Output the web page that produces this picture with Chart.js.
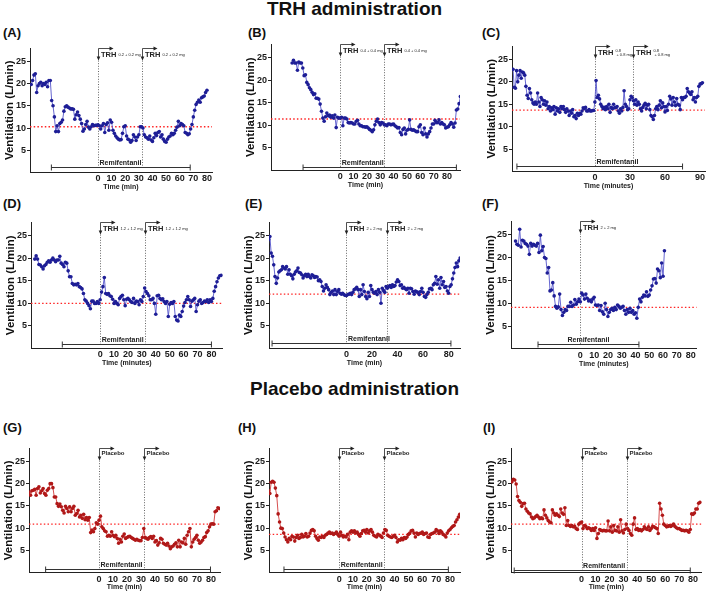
<!DOCTYPE html>
<html>
<head>
<meta charset="utf-8">
<script src="https://cdn.jsdelivr.net/npm/chart.js@4.4.1/dist/chart.umd.min.js"></script>
<style>
body { margin: 0; background: #fff; }
#fig { position: relative; width: 709px; height: 598px; overflow: hidden; font-family: "Liberation Sans", Arial, sans-serif; color: #111; }
.head { position: absolute; left: 0; width: 709px; text-align: center; font-weight: bold; font-size: 19px; line-height: 22px; }
.tag { position: absolute; font-weight: bold; font-size: 13px; line-height: 14px; }
canvas { position: absolute; }
</style>
</head>
<body>
<div id="fig">
  <div class="head" style="top:-2px">TRH administration</div>
  <div class="head" style="top:378px">Placebo administration</div>
</div>
<script>
const FONT = '"Liberation Sans", Arial, sans-serif';

// ventilation (L/min), one sample per minute starting at xxStart
const aStart = -49;
const aVent = [
  19.8, 20.7, 21.9, 22.2, 18.0, 19.5, 20.0, 20.3, 19.5, 20.0,
  19.8, 20.3, 19.3, 20.7, 20.7, 16.2, 15.0, 12.5, 9.2, 10.5,
  9.2, 11.0, 11.3, 11.8, 13.8, 14.8, 15.0, 14.7, 14.5, 14.3,
  14.3, 14.2, 12.0, 13.0, 13.6, 12.8, 12.0, 11.0, 9.3, 9.8,
  10.8, 11.5, 10.2, 9.8, 10.3, 10.8, 10.5, 10.6, 10.6, 10.7,
  10.5, 9.8, 10.5, 11.0, 9.0, 10.8, 11.2, 9.5, 11.8, 11.3,
  9.5, 8.8, 8.2, 7.8, 7.5, 7.3, 7.4, 8.8, 10.3, 10.5,
  8.2, 7.5, 7.3, 6.8, 7.2, 8.5, 8.0, 7.2, 8.0, 8.5,
  10.3, 10.3, 10.0, 8.5, 8.0, 7.8, 7.5, 8.2, 7.3, 7.0,
  7.8, 8.8, 8.3, 9.0, 9.2, 8.0, 8.5, 7.5, 7.0, 6.8,
  7.5, 8.0, 8.2, 8.8, 8.5, 8.8, 9.5, 10.2, 11.5, 10.5,
  11.0, 10.8, 10.5, 9.0, 8.8, 8.5, 8.7, 9.8, 10.8, 12.5,
  14.0, 15.3, 15.8, 16.3, 15.8, 16.8, 17.0, 17.2, 18.0, 18.5
];
const bStart = -36;
const bVent = [
  23.8, 24.4, 23.8, 23.8, 22.2, 24.0, 23.8, 23.8, 22.7, 21.0,
  21.2, 19.5, 19.0, 18.3, 17.9, 17.3, 16.8, 17.0, 16.0, 16.0,
  15.8, 14.7, 13.1, 11.6, 10.9, 11.9, 12.7, 12.1, 12.3, 11.8,
  12.1, 11.6, 12.3, 9.5, 11.8, 11.6, 11.6, 11.8, 9.9, 11.6,
  11.6, 11.4, 10.6, 10.5, 10.6, 10.5, 10.3, 10.3, 10.9, 11.1,
  10.3, 9.9, 9.9, 9.7, 9.7, 9.6, 9.7, 9.4, 9.1, 8.9,
  8.6, 9.0, 10.1, 10.9, 11.4, 10.6, 10.1, 10.6, 10.5, 10.1,
  10.1, 9.9, 10.3, 10.3, 10.1, 10.2, 10.3, 9.9, 9.7, 9.4,
  9.5, 8.4, 7.9, 9.1, 9.4, 8.1, 8.9, 9.1, 11.2, 9.1,
  8.9, 9.0, 8.8, 8.6, 8.6, 9.7, 10.1, 8.4, 7.9, 9.4,
  8.1, 7.4, 8.1, 8.6, 9.4, 10.3, 10.3, 11.1, 10.6, 10.6,
  11.2, 10.3, 10.6, 10.3, 10.1, 9.4, 9.6, 9.7, 10.1, 10.6,
  10.3, 9.6, 10.5, 13.4, 13.6, 14.8, 16.4
];
const cStart = -70;
const cVent = [
  22.8, 18.8, 18.6, 22.5, 20.0, 21.5, 22.5, 20.8, 22.2, 22.0,
  21.5, 19.0, 17.0, 16.3, 18.5, 17.5, 16.0, 15.3, 15.0, 15.5,
  15.0, 17.5, 15.5, 14.5, 16.5, 16.0, 15.0, 15.8, 14.8, 15.5,
  14.0, 14.5, 13.5, 14.2, 13.8, 14.5, 12.8, 14.2, 13.5, 14.0,
  13.2, 14.5, 14.0, 14.5, 13.8, 13.2, 14.0, 13.5, 12.5, 13.5,
  13.0, 13.8, 12.2, 12.5, 11.8, 13.0, 12.5, 13.0, 12.8, 13.5,
  14.2, 14.0, 14.3, 13.5, 13.5, 13.8, 13.5, 13.5, 13.6, 13.6,
  15.5, 20.3, 16.5, 17.0, 16.2, 15.0, 14.5, 14.0, 14.3, 13.8,
  14.5, 14.0, 15.0, 13.2, 14.3, 14.0, 15.0, 14.2, 14.3, 14.5,
  13.5, 13.0, 14.0, 13.5, 14.3, 18.0, 15.0, 14.5, 13.8, 14.0,
  16.0, 16.8, 16.5, 15.8, 15.0, 16.0, 14.8, 15.5, 15.0, 14.0,
  13.5, 14.3, 14.8, 15.2, 14.0, 14.8, 15.0, 13.8, 12.5, 12.2,
  11.6, 12.5, 14.0, 14.5, 13.8, 14.8, 15.8, 14.2, 15.3, 14.5,
  13.3, 14.5, 13.6, 15.0, 16.8, 16.2, 14.8, 16.5, 15.5, 14.7,
  16.3, 15.0, 14.8, 13.8, 16.5, 16.0, 16.5, 16.5, 16.8, 18.5,
  17.8, 17.5, 17.2, 17.8, 16.0, 16.5, 15.5, 16.5, 16.8, 19.0,
  19.5, 19.6, 19.8
];
const dStart = -47;
const dVent = [
  19.8, 20.5, 19.8, 18.6, 18.5, 18.1, 17.6, 18.3, 18.6, 19.1,
  19.4, 19.1, 19.6, 20.0, 19.6, 19.2, 19.6, 19.6, 20.4, 18.9,
  18.6, 18.1, 19.1, 18.9, 17.2, 15.9, 15.9, 14.4, 14.1, 14.2,
  14.1, 14.4, 13.7, 13.5, 13.2, 12.2, 10.8, 10.5, 10.0, 9.5,
  8.8, 10.5, 10.5, 10.0, 10.0, 10.4, 10.0, 10.8, 12.5, 13.7,
  15.7, 12.2, 12.0, 12.2, 11.7, 11.5, 10.9, 10.0, 10.4, 10.0,
  9.7, 11.1, 11.5, 11.8, 10.8, 9.5, 10.9, 11.1, 10.8, 10.4,
  10.2, 11.1, 10.0, 10.5, 10.4, 9.7, 10.8, 10.4, 11.5, 13.4,
  12.6, 12.2, 11.7, 10.8, 10.8, 11.1, 10.0, 7.6, 11.7, 11.8,
  11.1, 10.8, 11.0, 10.4, 10.0, 10.4, 7.1, 9.8, 10.2, 10.0,
  10.4, 7.1, 6.3, 6.1, 7.4, 7.1, 8.2, 9.4, 10.2, 10.8,
  11.5, 10.8, 9.3, 10.5, 10.8, 11.1, 8.2, 9.7, 10.5, 10.8,
  10.0, 10.2, 10.5, 10.4, 10.8, 10.2, 10.8, 10.4, 11.1, 12.7,
  13.7, 14.8, 15.6, 16.1, 16.2
];
const eStart = -61;
const eVent = [
  24.1, 24.8, 21.1, 20.4, 18.5, 15.9, 14.4, 15.6, 16.9, 17.2,
  17.4, 18.1, 17.8, 17.6, 18.1, 16.4, 17.4, 16.4, 16.1, 15.4,
  16.4, 16.9, 17.2, 17.8, 16.8, 16.7, 16.3, 15.6, 16.1, 16.4,
  15.9, 16.4, 15.9, 15.6, 16.3, 16.1, 15.7, 15.9, 15.8, 15.0,
  15.2, 14.8, 13.7, 12.7, 13.3, 14.1, 13.5, 13.0, 11.9, 12.4,
  12.7, 11.9, 13.0, 11.9, 12.6, 13.0, 12.2, 12.0, 12.2, 11.9,
  11.7, 11.7, 11.9, 12.0, 12.2, 11.9, 12.4, 13.0, 13.2, 13.5,
  13.0, 11.5, 13.0, 11.9, 14.1, 12.6, 11.5, 11.0, 12.4, 11.5,
  13.9, 13.0, 12.4, 12.2, 12.6, 11.9, 13.0, 12.4, 10.0, 13.3,
  12.8, 12.4, 13.7, 13.3, 13.7, 13.9, 13.5, 14.1, 13.7, 13.9,
  14.7, 15.2, 14.8, 13.9, 14.1, 13.3, 13.5, 13.2, 13.0, 13.3,
  12.2, 13.3, 13.2, 12.6, 12.0, 12.7, 12.5, 12.4, 11.9, 12.6,
  13.3, 12.4, 11.5, 11.3, 11.9, 12.4, 13.2, 13.3, 13.0, 14.1,
  14.4, 15.9, 14.2, 15.2, 13.3, 15.7, 14.1, 14.8, 13.5, 13.7,
  12.7, 12.2, 13.7, 14.1, 15.4, 16.7, 17.9, 18.9, 18.1, 19.4,
  20.0
];
const fStart = -47;
const fVent = [
  23.6, 22.9, 22.7, 26.2, 22.3, 23.8, 23.6, 23.1, 22.9, 22.5,
  20.7, 23.1, 22.5, 22.9, 22.7, 22.5, 23.1, 21.1, 24.9, 21.5,
  22.4, 20.0, 19.8, 16.6, 17.8, 12.7, 12.9, 14.5, 11.6, 9.3,
  8.9, 9.2, 12.0, 8.6, 7.3, 8.0, 8.6, 8.4, 9.3, 9.3,
  10.2, 9.3, 9.6, 10.8, 9.8, 10.3, 10.9, 10.3, 12.2, 11.8,
  10.9, 12.0, 11.1, 10.5, 10.7, 10.3, 10.9, 11.3, 9.6, 9.5,
  9.6, 8.4, 9.5, 8.1, 7.6, 10.0, 8.6, 7.1, 8.0, 8.6,
  8.9, 8.4, 9.1, 8.6, 9.6, 9.3, 8.9, 9.1, 9.3, 8.4,
  7.6, 8.6, 8.0, 8.9, 8.0, 8.4, 7.6, 7.9, 6.7, 9.1,
  10.9, 10.3, 11.3, 11.8, 11.6, 12.5, 11.5, 11.8, 12.9, 13.8,
  15.3, 15.4, 14.4, 17.5, 17.1, 15.6, 18.8, 15.9, 21.5
];
const gStart = -50;
const gVent = [
  18.1, 17.4, 18.4, 18.5, 18.7, 17.4, 18.9, 19.3, 17.9, 18.4,
  18.9, 17.8, 17.4, 18.5, 18.9, 20.0, 20.0, 19.1, 17.0, 17.0,
  15.5, 14.9, 15.4, 14.8, 14.0, 13.4, 14.9, 14.4, 13.7, 14.8,
  13.7, 14.4, 14.9, 12.9, 13.3, 14.0, 12.5, 12.9, 12.2, 13.1,
  11.9, 12.4, 11.8, 12.4, 9.0, 9.6, 9.2, 9.9, 11.2, 10.9,
  11.8, 12.7, 10.3, 9.9, 9.4, 9.2, 8.2, 8.4, 8.2, 9.2,
  8.4, 8.1, 8.4, 7.7, 6.6, 7.5, 6.9, 8.2, 8.7, 7.7,
  7.9, 8.1, 8.2, 7.9, 7.7, 7.5, 7.3, 7.5, 7.3, 7.2,
  7.2, 7.9, 9.9, 7.9, 7.7, 7.5, 7.9, 8.1, 7.7, 8.2,
  6.9, 7.2, 6.2, 6.7, 7.7, 7.5, 6.6, 6.4, 6.2, 6.6,
  6.0, 5.4, 5.8, 6.0, 6.4, 6.7, 5.8, 7.3, 5.8, 6.9,
  6.7, 7.7, 6.4, 8.4, 9.2, 9.9, 5.8, 6.9, 7.5, 7.9,
  8.4, 7.3, 6.6, 6.9, 7.3, 7.9, 8.1, 9.0, 9.4, 10.3,
  10.9, 11.0, 10.9, 13.7, 13.9, 14.6, 14.4
];
const hStart = -51;
const hVent = [
  18.4, 17.8, 20.3, 20.5, 20.3, 19.0, 17.3, 13.2, 11.4, 10.0,
  9.9, 8.9, 8.0, 7.4, 6.9, 7.7, 7.4, 8.2, 8.0, 7.1,
  7.9, 8.4, 7.7, 7.9, 8.6, 8.0, 8.2, 8.8, 8.0, 8.2,
  8.9, 9.5, 9.7, 9.4, 8.2, 7.7, 7.3, 8.0, 7.9, 8.2,
  7.9, 8.4, 8.6, 8.9, 9.1, 8.8, 8.9, 8.6, 8.8, 9.1,
  8.6, 8.2, 9.1, 8.4, 8.0, 8.2, 8.0, 8.6, 7.4, 9.1,
  9.4, 9.1, 9.4, 8.9, 9.1, 8.6, 8.2, 8.8, 9.4, 9.5,
  9.1, 9.7, 8.9, 9.4, 9.7, 9.1, 8.4, 8.2, 8.0, 8.6,
  8.4, 8.2, 7.9, 8.9, 9.7, 9.5, 8.4, 8.2, 8.0, 7.9,
  8.2, 8.4, 7.9, 6.9, 7.4, 7.3, 7.7, 7.4, 7.9, 7.7,
  8.0, 8.6, 8.9, 9.4, 9.5, 8.9, 8.0, 8.9, 8.6, 8.8,
  8.9, 9.1, 8.6, 8.8, 8.9, 8.0, 7.9, 8.6, 8.8, 8.9,
  9.1, 9.7, 9.4, 8.8, 9.4, 9.1, 8.6, 8.4, 8.0, 8.9,
  9.4, 9.7, 10.1, 10.4, 10.6, 11.4, 11.9, 12.5, 13.1
];
const iStart = -50;
const iVent = [
  20.4, 21.0, 20.8, 19.9, 17.1, 16.2, 15.8, 14.9, 15.5, 15.6,
  14.3, 13.8, 13.4, 13.2, 12.5, 12.1, 12.3, 12.6, 12.9, 12.5,
  12.1, 12.3, 12.1, 14.1, 12.9, 12.3, 11.7, 11.4, 11.2, 14.1,
  13.4, 12.9, 13.2, 12.9, 12.6, 14.3, 13.4, 13.1, 14.6, 10.6,
  11.7, 10.6, 10.4, 10.6, 10.3, 10.4, 9.9, 9.7, 10.9, 11.2,
  11.4, 9.9, 10.6, 10.4, 9.9, 10.1, 9.9, 9.5, 9.9, 9.5,
  10.1, 7.7, 8.8, 9.7, 9.5, 9.4, 9.5, 9.4, 9.4, 11.6,
  9.4, 10.3, 9.1, 10.6, 9.5, 9.4, 10.3, 9.1, 11.9, 9.4,
  8.9, 9.7, 10.9, 9.9, 9.5, 8.8, 8.4, 10.9, 12.3, 9.7,
  9.9, 9.5, 9.7, 9.4, 9.7, 10.3, 9.9, 9.7, 10.3, 9.5,
  9.9, 10.4, 10.3, 10.1, 9.9, 8.8, 15.6, 14.3, 12.9, 10.9,
  10.6, 10.3, 10.4, 10.6, 10.4, 10.6, 10.9, 10.4, 10.1, 9.9,
  9.9, 9.7, 9.5, 9.5, 9.4, 9.5, 9.4, 9.1, 9.7, 13.2,
  13.1, 13.4, 14.3, 14.3, 15.6, 15.8
];

const panelLetters = ['(A)', '(B)', '(C)', '(D)', '(E)', '(F)', '(G)', '(H)', '(I)'];
const baselines = [10.3, 11.4, 13.7, 10.0, 12.0, 9.1, 10.9, 8.6, 10.9];
const doseTimes = [[0, 32.3], [0, 33], [0, 32.5], [0, 32.2], [0, 32], [0], [0, 32.4], [0, 32.5], [0, 32.3]];
const remiStart = [-34.2, -27.8, -66.7, -27.2, -58.3, -30.7, -38.2, -39.8, -48.4];
const remiEnd = [67.7, 87, 75, 80, 81.8, 42.5, 79.7, 78.8, 78];
const drugs = ['TRH', 'TRH', 'TRH', 'TRH', 'TRH', 'TRH', 'Placebo', 'Placebo', 'Placebo'];
const doseText = ['0.2 + 0.2 mg', '0.4 + 0.4 mg', ['0.8', '+ 0.8 mg'], '1.2 + 1.2 mg', '2 + 2 mg', '2 + 2 mg', '', '', ''];
const timeTitles = ['Time (min)', 'Time (min)', 'Time (minutes)', 'Time (minutes)', 'Time (min)', 'Time (minutes)', 'Time (min)', 'Time (min)', 'Time (min)'];
const ticksTen = [0, 10, 20, 30, 40, 50, 60, 70, 80];
const ticksTwenty = [0, 20, 40, 60, 80];
const ticksThirty = [0, 30, 60, 90];
const yTicks = [5, 10, 15, 20, 25];

const starts = [aStart, bStart, cStart, dStart, eStart, fStart, gStart, hStart, iStart];
const vents = [aVent, bVent, cVent, dVent, eVent, fVent, gVent, hVent, iVent];
const xTicks = [ticksTen, ticksTen, ticksThirty, ticksTen, ticksTwenty, ticksTen, ticksTen, ticksTen, ticksTen];

// plot box in page pixels, axis ranges, tag spot
const layout = [
  { left: 30,  top: 48,  w: 182,   h: 124.5, xMin: -49.9, xMax: 83.7, barY: 1.3,  tag: [3, 26] },
  { left: 271, top: 44,  w: 189,   h: 126.5, xMin: -51.8, xMax: 89.7, barY: 0.85, tag: [248, 26] },
  { left: 512, top: 46,  w: 193,   h: 125.5, xMin: -70.9, xMax: 94.2, barY: 1.3,  tag: [482, 26] },
  { left: 31,  top: 222, w: 191.7, h: 126.6, xMin: -49.7, xMax: 88.1, barY: 0.94, tag: [3, 197] },
  { left: 269, top: 222, w: 191,   h: 126.3, xMin: -60.7, xMax: 88.9, barY: 1.1,  tag: [245, 197] },
  { left: 511, top: 221, w: 185.7, h: 127.9, xMin: -50.3, xMax: 84.4, barY: 1.1,  tag: [482, 197] },
  { left: 29,  top: 448, w: 191,   h: 124.7, xMin: -50.1, xMax: 86.5, barY: 0.8,  tag: [3, 421] },
  { left: 269, top: 448, w: 191,   h: 124.7, xMin: -50.6, xMax: 87.2, barY: 0.8,  tag: [238, 421] },
  { left: 511, top: 448, w: 190.7, h: 124.7, xMin: -50.7, xMax: 86.2, barY: 0.6,  tag: [483, 421] }
];

const markPlugin = {
  id: 'marks',
  beforeDatasetsDraw(chart, args, o) {
    const { ctx, chartArea: ca, scales: { x, y } } = chart;
    const by = Math.round(y.getPixelForValue(o.barY)) + 0.5;
    ctx.save();
    ctx.strokeStyle = '#555';
    ctx.lineWidth = 0.9;
    ctx.setLineDash([1, 1.6]);
    o.doses.forEach(t => {
      const px = Math.round(x.getPixelForValue(t)) + 0.5;
      ctx.beginPath();
      ctx.moveTo(px, ca.top + 10);
      ctx.lineTo(px, by);
      ctx.stroke();
    });
    ctx.setLineDash([]);
    // remifentanil infusion bar
    const x1 = x.getPixelForValue(o.remi[0]), x2 = x.getPixelForValue(o.remi[1]);
    ctx.strokeStyle = '#333';
    ctx.lineWidth = 1;
    ctx.beginPath();
    ctx.moveTo(x1, by); ctx.lineTo(x2, by);
    ctx.moveTo(x1, by - 3); ctx.lineTo(x1, by + 3);
    ctx.moveTo(x2, by - 3); ctx.lineTo(x2, by + 3);
    ctx.stroke();
    ctx.fillStyle = '#222';
    ctx.font = 'bold 7px ' + FONT;
    ctx.textBaseline = 'alphabetic';
    if (o.centerText) {
      ctx.textAlign = 'center';
      ctx.fillText('Remifentanil', (x1 + x2) / 2, by - 3);
    } else {
      ctx.textAlign = 'left';
      ctx.fillText('Remifentanil', x.getPixelForValue(0) + 1.5, by - 3);
    }
    ctx.restore();
  },
  afterDatasetsDraw(chart, args, o) {
    const { ctx, chartArea: ca, scales: { x } } = chart;
    ctx.save();
    ctx.strokeStyle = '#222';
    ctx.fillStyle = '#222';
    ctx.lineWidth = 0.8;
    o.doses.forEach(t => {
      const px = Math.round(x.getPixelForValue(t)) + 0.5, top = ca.top + 0.5;
      ctx.beginPath();
      ctx.moveTo(px, top + 9); ctx.lineTo(px, top); ctx.lineTo(px + 12, top);
      ctx.stroke();
      ctx.beginPath();
      ctx.moveTo(px + 15, top); ctx.lineTo(px + 11, top - 2); ctx.lineTo(px + 11, top + 2);
      ctx.closePath(); ctx.fill();
      ctx.beginPath();
      ctx.moveTo(px, top + 12); ctx.lineTo(px - 1.8, top + 8); ctx.lineTo(px + 1.8, top + 8);
      ctx.closePath(); ctx.fill();
      ctx.textAlign = 'left';
      ctx.textBaseline = 'middle';
      if (o.drug === 'TRH') {
        ctx.font = 'bold 7.5px ' + FONT;
        ctx.fillText('TRH', px + 2.5, top + 6);
        const w = ctx.measureText('TRH').width;
        ctx.font = '4px ' + FONT;
        if (Array.isArray(o.dose)) {
          ctx.fillText(o.dose[0], px + 2.5 + w + 2, top + 4);
          ctx.fillText(o.dose[1], px + 2.5 + w + 3, top + 8.5);
        } else {
          ctx.fillText(o.dose, px + 2.5 + w + 2, top + 6.5);
        }
      } else {
        ctx.font = 'bold 6px ' + FONT;
        ctx.fillText('Placebo', px + 2, top + 5);
      }
    });
    ctx.restore();
  }
};

const fig = document.getElementById('fig');

layout.forEach((p, i) => {
  const tag = document.createElement('div');
  tag.className = 'tag';
  tag.style.left = p.tag[0] + 'px';
  tag.style.top = p.tag[1] + 'px';
  tag.textContent = panelLetters[i];
  fig.appendChild(tag);

  const cw = Math.ceil(30 + p.w + 12), ch = Math.ceil(4 + p.h + 19);
  const cv = document.createElement('canvas');
  cv.width = cw; cv.height = ch;
  cv.style.left = (p.left - 30) + 'px';
  cv.style.top = (p.top - 4) + 'px';
  cv.style.width = cw + 'px';
  cv.style.height = ch + 'px';
  fig.appendChild(cv);

  const placebo = drugs[i] === 'Placebo';
  const lineCol = placebo ? '#d23c3c' : '#5656cc';
  const dotCol = placebo ? '#b01818' : '#1e1e96';
  const pts = vents[i].map((v, k) => ({ x: starts[i] + k, y: v }));

  new Chart(cv, {
    type: 'line',
    data: {
      datasets: [{
        data: pts,
        borderColor: lineCol,
        borderWidth: 0.9,
        pointRadius: 1.8,
        pointBackgroundColor: dotCol,
        pointBorderWidth: 0,
        tension: 0
      }, {
        data: [{ x: p.xMin, y: baselines[i] }, { x: p.xMax, y: baselines[i] }],
        borderColor: '#ff2424',
        borderWidth: 1.4,
        borderDash: [1.5, 2.2],
        pointRadius: 0
      }]
    },
    options: {
      responsive: false,
      maintainAspectRatio: false,
      devicePixelRatio: 1,
      animation: false,
      events: [],
      layout: { padding: { left: 0, top: 4, right: cw - 30 - p.w, bottom: ch - 23 - p.h } },
      plugins: {
        legend: { display: false },
        tooltip: { enabled: false },
        marks: {
          doses: doseTimes[i],
          remi: [remiStart[i], remiEnd[i]],
          barY: p.barY,
          drug: drugs[i],
          dose: doseText[i],
          centerText: doseTimes[i].length === 1
        }
      },
      scales: {
        x: {
          type: 'linear',
          min: p.xMin,
          max: p.xMax,
          afterBuildTicks: s => { s.ticks = xTicks[i].map(v => ({ value: v })); },
          afterFit: s => { s.height = 19; s.paddingLeft = 0; s.paddingRight = 0; },
          ticks: { autoSkip: false, maxRotation: 0, padding: 1, color: '#1a1a1a', font: { family: FONT, size: 9, weight: 'bold' } },
          grid: { display: false, drawTicks: false },
          border: { color: '#222', width: 1 },
          title: { display: true, text: timeTitles[i], color: '#1a1a1a', padding: 0, font: { family: FONT, size: 7, weight: 'bold' } }
        },
        y: {
          type: 'linear',
          min: 0,
          max: 28,
          afterBuildTicks: s => { s.ticks = yTicks.map(v => ({ value: v })); },
          afterFit: s => { s.width = 30; s.paddingTop = 0; s.paddingBottom = 0; },
          ticks: { padding: 1, color: '#1a1a1a', font: { family: FONT, size: 9, weight: 'bold' } },
          grid: { drawOnChartArea: false, tickLength: 3, color: '#222' },
          border: { color: '#222', width: 1 },
          title: { display: true, text: 'Ventilation (L/min)', color: '#111', padding: { top: 3, bottom: 0 }, font: { family: FONT, size: 11.5, weight: 'bold' } }
        }
      }
    },
    plugins: [markPlugin]
  });
});
</script>
</body>
</html>
